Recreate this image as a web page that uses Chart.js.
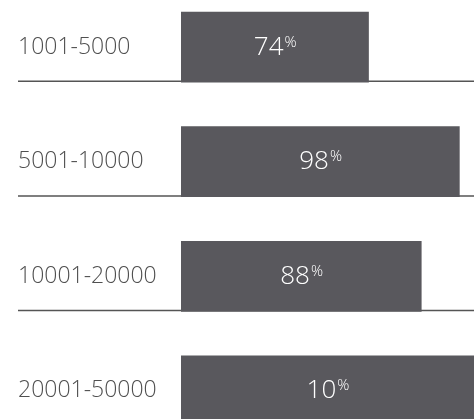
<!DOCTYPE html>
<html>
<head>
<meta charset="utf-8">
<script src="https://cdn.jsdelivr.net/npm/chart.js@4.4.1/dist/chart.umd.min.js"></script>
<style>
    html, body { margin: 0; padding: 0; background: #ffffff; overflow: hidden; }
    #wrap { position: relative; width: 474px; height: 419px; overflow: hidden; }
    #wrap canvas { position: absolute; left: 0; top: -24px; }
</style>
</head>
<body>
<div id="wrap"><canvas id="rangeChart" width="474" height="486"></canvas></div>
<script>
// categories
var ranges = ['1001-5000', '5001-10000', '10001-20000', '20001-50000'];
// bar lengths as drawn (share of the plot width)
var barLengths = [64, 95, 82, 100];
// percentages printed inside the bars
var shareLabels = ['74', '98', '88', '10'];

var barColor = '#59585d';
var textColor = '#4f4f4f';

// baselines under each bar + the white percent text
var barExtras = {
    id: 'barExtras',
    beforeDatasetsDraw: function(chart) {
        var ctx = chart.ctx;
        var meta = chart.getDatasetMeta(0);
        var left = chart.scales.y.left;
        ctx.save();
        ctx.strokeStyle = '#555555';
        ctx.lineWidth = 1.5;
        meta.data.forEach(function(bar) {
            var y = bar.y + bar.height / 2 - 0.75;
            ctx.beginPath();
            ctx.moveTo(left, y);
            ctx.lineTo(chart.chartArea.right, y);
            ctx.stroke();
        });
        ctx.restore();
    },
    afterDatasetsDraw: function(chart) {
        var ctx = chart.ctx;
        var meta = chart.getDatasetMeta(0);
        var area = chart.chartArea;
        ctx.save();
        ctx.fillStyle = '#ffffff';
        ctx.textBaseline = 'alphabetic';
        ctx.textAlign = 'left';
        meta.data.forEach(function(bar, i) {
            var cx = (bar.base + Math.min(bar.x, area.right)) / 2;
            var base = bar.y + 7.5;
            ctx.font = '300 26px "Open Sans"';
            var num = shareLabels[i];
            var w1 = ctx.measureText(num).width;
            ctx.font = '300 15px "Open Sans"';
            var w2 = ctx.measureText('%').width;
            var x0 = cx - (w1 + w2) / 2;
            ctx.font = '300 26px "Open Sans"';
            ctx.fillText(num, x0, base);
            ctx.font = '300 15px "Open Sans"';
            ctx.fillText('%', x0 + w1 + 1, base - 8);
        });
        ctx.restore();
    }
};

var rc = document.getElementById('rangeChart');

var rangeChart = new Chart(rc, {
    type: 'bar',
    data: {
        labels: ranges,
        datasets: [{
            data: barLengths,
            backgroundColor: barColor,
            borderWidth: 0,
            barThickness: 70
        }]
    },
    options: {
        indexAxis: 'y',
        responsive: false,
        animation: false,
        layout: {
            padding: { left: 18, right: 0, top: 0, bottom: 0 }
        },
        plugins: {
            legend: { display: false },
            tooltip: { enabled: false }
        },
        scales: {
            x: {
                display: false,
                min: 0,
                max: 100
            },
            y: {
                grid: { display: false },
                border: { display: false },
                afterFit: function(scale) {
                    scale.width = 163;
                },
                ticks: {
                    crossAlign: 'far',
                    padding: 0,
                    color: textColor,
                    font: { family: '"Open Sans"', size: 23, weight: '300' }
                }
            }
        }
    },
    plugins: [barExtras]
});
</script>
</body>
</html>
